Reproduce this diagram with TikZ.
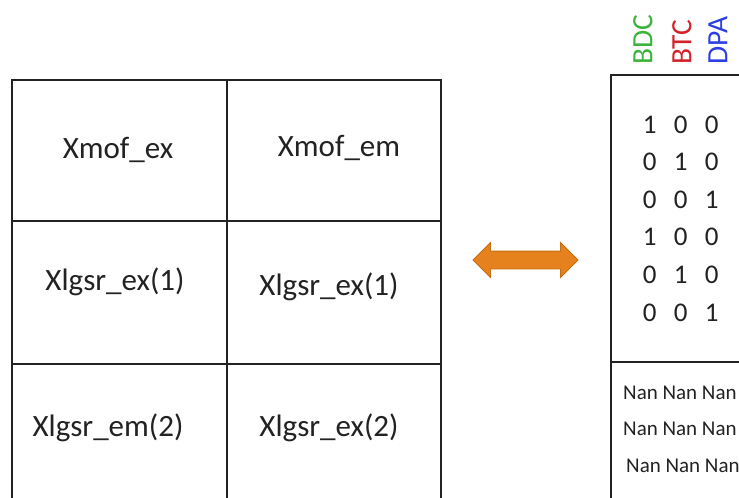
\documentclass[tikz,border=0pt]{standalone}
\usepackage{fontspec}
\setmainfont{Carlito}
\usetikzlibrary{shapes.arrows}
\definecolor{gridc}{HTML}{222222}
\definecolor{bdcc}{HTML}{3CB43C}
\definecolor{btcc}{HTML}{D2232A}
\definecolor{dpac}{HTML}{2E3FE0}
\definecolor{arrowfill}{HTML}{E6821E}
\definecolor{arrowline}{HTML}{C66E16}
\definecolor{textc}{HTML}{222222}
\tikzset{
  gridline/.style={draw=gridc, line width=1.3pt},
  celltext/.style={font=\fontsize{31}{34}\selectfont, text=textc, inner sep=0pt},
  hdr/.style={font=\fontsize{29.5}{32}\selectfont, rotate=90, anchor=west, inner sep=0pt},
  matrow/.style={font=\fontsize{27}{30}\selectfont, text=textc, inner sep=0pt, anchor=west},
  nanrow/.style={font=\fontsize{21}{24}\selectfont, text=textc, inner sep=0pt, anchor=west},
}
\newcommand{\dg}[1]{\makebox[31pt]{#1}}
\begin{document}
\begin{tikzpicture}[x=1pt,y=-1pt]
\useasboundingbox (0,0) rectangle (739,498);
% left grid
\draw[gridline] (12,510) -- (12,80) -- (441,80) -- (441,510);
\draw[gridline] (227,80) -- (227,510);
\draw[gridline] (12,221) -- (441,221);
\draw[gridline] (12,364) -- (441,364);
\node[celltext] (c11) at (118,150) {Xmof\_ex};
\node[celltext] (c12) at (339,148) {Xmof\_em};
\node[celltext] (c21) at (115,282) {Xlgsr\_ex(1)};
\node[celltext] (c22) at (329,287) {Xlgsr\_ex(1)};
\node[celltext] (c31) at (108,428) {Xlgsr\_em(2)};
\node[celltext] (c32) at (329,428) {Xlgsr\_ex(2)};
% arrow
\node[double arrow, draw=arrowline, fill=arrowfill, line width=0.8pt,
      minimum height=105pt, double arrow head extend=8.5pt,
      inner xsep=0pt, inner ysep=8.5pt, text height=0pt, text depth=0pt] (arr) at (525.5,260) {};
% right box
\draw[gridline] (750,75) -- (611,75) -- (611,510);
\draw[gridline] (611,362) -- (750,362);
\node[hdr, text=bdcc] (h1) at (643,65) {BDC};
\node[hdr, text=btcc] (h2) at (682,65) {BTC};
\node[hdr, text=dpac] (h3) at (718,65) {DPA};
\node[matrow] (r1) at (634,125) {\dg{1}\dg{0}\dg{0}};
\node[matrow] (r2) at (634,162) {\dg{0}\dg{1}\dg{0}};
\node[matrow] (r3) at (634,200) {\dg{0}\dg{0}\dg{1}};
\node[matrow] (r4) at (634,237) {\dg{1}\dg{0}\dg{0}};
\node[matrow] (r5) at (634,275) {\dg{0}\dg{1}\dg{0}};
\node[matrow] (r6) at (634,313) {\dg{0}\dg{0}\dg{1}};
\node[nanrow] (n1) at (623,393) {Nan Nan Nan};
\node[nanrow] (n2) at (623,429) {Nan Nan Nan};
\node[nanrow] (n3) at (626,466) {Nan Nan Nan};
\end{tikzpicture}
\end{document}
